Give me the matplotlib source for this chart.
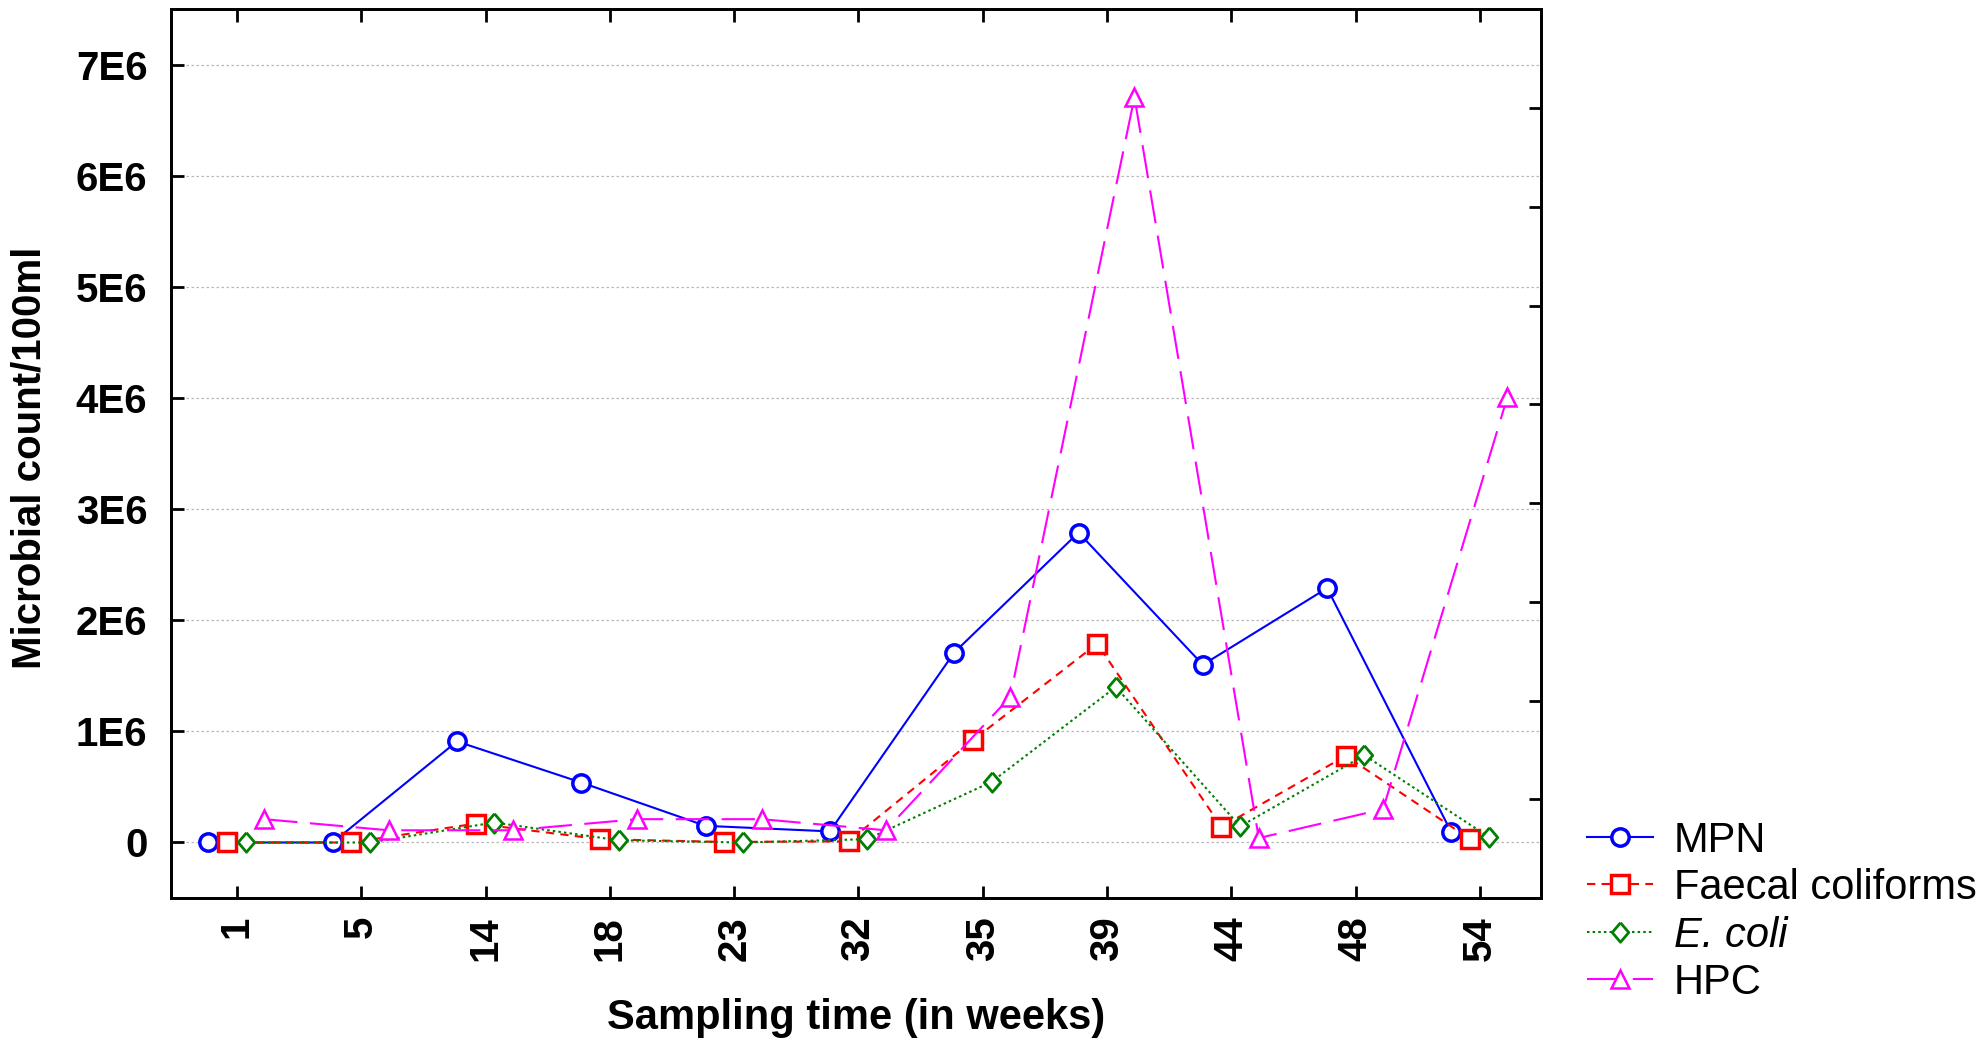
import matplotlib
matplotlib.use("Agg")
import matplotlib.pyplot as plt
import numpy as np

# sampling weeks (categorical x axis)
weeks = ["1", "5", "14", "18", "23", "32", "35", "39", "44", "48", "54"]

# microbial counts per 100 ml
mpn = [0.0, 0.0, 0.91e6, 0.54e6, 0.15e6, 0.10e6, 1.71e6, 2.79e6, 1.60e6, 2.29e6, 0.09e6]
faecal = [0.0, 0.0, 0.17e6, 0.03e6, 0.005e6, 0.01e6, 0.92e6, 1.79e6, 0.14e6, 0.78e6, 0.03e6]
ecoli = [0.0, 0.0, 0.18e6, 0.02e6, 0.0, 0.03e6, 0.545e6, 1.40e6, 0.145e6, 0.785e6, 0.05e6]
hpc = [0.21e6, 0.11e6, 0.11e6, 0.21e6, 0.21e6, 0.11e6, 1.31e6, 6.71e6, 0.04e6, 0.30e6, 4.01e6]

series_names = ["MPN", "Faecal coliforms", "E. coli", "HPC"]
yticks = [0, 1e6, 2e6, 3e6, 4e6, 5e6, 6e6, 7e6]
ytick_labels = ["0", "1E6", "2E6", "3E6", "4E6", "5E6", "6E6", "7E6"]

fig = plt.figure(figsize=(19.84, 10.4), dpi=100)
ax = fig.add_axes([0.0862, 0.1365, 0.6905, 0.8545])

x = np.arange(len(weeks))
lw = 1.5
diamond = [(0, 1), (0.85, 0), (0, -1), (-0.85, 0), (0, 1)]

ax.plot(x - 0.23, mpn, color="#0000ff", lw=lw, linestyle="-",
        marker="o", ms=12.5, mew=2.5, mfc="white", label=series_names[0], zorder=3)
ax.plot(x - 0.08, faecal, color="#ff0000", lw=lw, dashes=(4, 3),
        marker="s", ms=13, mew=2.5, mfc="white", label=series_names[1], zorder=4)
ax.plot(x + 0.07, ecoli, color="#008000", lw=lw, dashes=(1.2, 1.5),
        marker=diamond, ms=14, mew=2.0, mfc="white", label=series_names[2], zorder=5)
ax.plot(x + 0.22, hpc, color="#ff00ff", lw=lw, dashes=(16, 6),
        marker="^", ms=12.5, mew=1.8, mfc="white", label=series_names[3], zorder=6)

ax.set_xlim(-0.53, 10.49)
ax.set_ylim(-0.5e6, 7.5e6)

ax.set_xticks(x)
ax.set_xticklabels(weeks, rotation=90, fontfamily="Liberation Sans",
                   fontweight="bold", fontsize=29)
ax.set_yticks(yticks)
ax.set_yticklabels(ytick_labels, fontfamily="Liberation Sans",
                   fontweight="bold", fontsize=29)

ax.tick_params(axis="x", direction="in", length=9, width=2, top=True, pad=13)
ax.tick_params(axis="y", direction="in", length=9, width=2, right=False, pad=17)

ax.grid(axis="y", color="#b8b8b8", linestyle=(0, (2, 2)), linewidth=0.9)
ax.set_axisbelow(True)
for sp in ax.spines.values():
    sp.set_linewidth(2)

# right hand axis with its own (unlabelled) scale
ax2 = ax.twinx()
ax2.set_ylim(0, 9)
ax2.set_yticks(range(1, 9))
ax2.set_yticklabels([])
ax2.tick_params(axis="y", direction="in", length=9, width=2)
for sp in ax2.spines.values():
    sp.set_linewidth(2)

ax.set_xlabel("Sampling time (in weeks)", fontfamily="Liberation Sans",
              fontweight="bold", fontsize=30, labelpad=27)
fig.text(0.015, 0.56, "Microbial count/100ml", rotation=90,
         fontfamily="Liberation Sans", fontweight="bold", fontsize=29,
         ha="center", va="center")

handles, labels = ax.get_legend_handles_labels()
leg = fig.legend(handles, labels, loc="upper left", bbox_to_anchor=(0.8, 0.211),
                 frameon=False, borderpad=0, borderaxespad=0,
                 prop={"family": "Liberation Sans", "size": 30},
                 handlelength=1.58, handletextpad=0.5, labelspacing=0.18)
leg.get_texts()[2].set_style("italic")

fig.savefig("out.png", dpi=100)
